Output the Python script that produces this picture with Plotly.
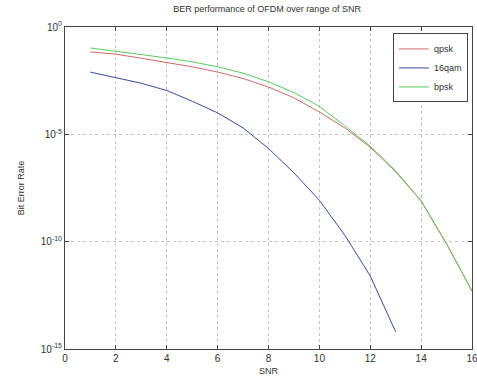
import plotly.graph_objects as go

snr_qam = [1, 2, 3, 4, 5, 6, 7, 8, 9, 10, 11, 12, 13]
snr_psk = [1, 2, 3, 4, 5, 6, 7, 8, 9, 10, 11, 12, 13, 14, 15, 16]

ber_qpsk = [6.9e-2, 5.4e-2, 3.5e-2, 2.3e-2, 1.4e-2, 7.9e-3, 4.0e-3, 1.6e-3, 5.0e-4,
            1.1e-4, 2.0e-5, 2.5e-6, 1.8e-7, 7.9e-9, 7.9e-11, 5.0e-13]
ber_16qam = [7.9e-3, 4.5e-3, 2.4e-3, 1.1e-3, 3.5e-4, 1.0e-4, 2.0e-5, 2.2e-6, 1.6e-7,
             8.5e-9, 2.0e-10, 2.5e-12, 6.3e-15]
ber_bpsk = [1.05e-1, 7.6e-2, 5.2e-2, 3.6e-2, 2.4e-2, 1.4e-2, 7.1e-3, 2.8e-3, 8.9e-4,
            2.0e-4, 2.5e-5, 2.8e-6, 2.0e-7, 7.9e-9, 7.9e-11, 5.0e-13]

y_tickvals = [1e0, 1e-5, 1e-10, 1e-15]
y_ticktext = ["10<sup>0</sup>", "10<sup>-5</sup>", "10<sup>-10</sup>", "10<sup>-15</sup>"]
x_tickvals = [0, 2, 4, 6, 8, 10, 12, 14, 16]

fig = go.Figure()
fig.add_trace(go.Scatter(x=snr_psk, y=ber_qpsk, mode="lines", name="qpsk",
                         line=dict(color="#cc6a6a", width=1)))
fig.add_trace(go.Scatter(x=snr_qam, y=ber_16qam, mode="lines", name="16qam",
                         line=dict(color="#3a4aa0", width=1)))
fig.add_trace(go.Scatter(x=snr_psk, y=ber_bpsk, mode="lines", name="bpsk",
                         line=dict(color="#5ccc5c", width=1)))

axis_common = dict(showline=True, linecolor="#444", linewidth=1, mirror="ticks",
                   ticks="inside", ticklen=4, tickcolor="#444",
                   showgrid=True, gridcolor="#c4c4c4", griddash="dot", gridwidth=1,
                   zeroline=False, ticklabeloverflow="allow", automargin=False,
                   tickfont=dict(family="Arial", size=10, color="#333"))

fig.update_xaxes(range=[0, 16], tickvals=x_tickvals, **axis_common,
                 title=dict(text="SNR", font=dict(family="Arial", size=9, color="#333"), standoff=4))
fig.update_yaxes(type="log", range=[-15, 0], tickvals=y_tickvals, ticktext=y_ticktext,
                 **axis_common,
                 title=dict(text="Bit Error Rate", font=dict(family="Arial", size=9, color="#333"), standoff=14))

fig.update_layout(
    width=477, height=381,
    margin=dict(l=65, r=5, t=27, b=32),
    paper_bgcolor="white", plot_bgcolor="white",
    title=dict(text="BER performance of OFDM over range of SNR", x=0.56, xanchor="center",
               y=0.985, yanchor="top", font=dict(family="Arial", size=9, color="#333")),
    legend=dict(x=0.99, y=0.98, xanchor="right", yanchor="top", bgcolor="white",
                bordercolor="#444", borderwidth=1, font=dict(family="Arial", size=9, color="#333"),
                tracegroupgap=0, itemwidth=30),
    showlegend=True,
)

fig.write_html("out.html")
